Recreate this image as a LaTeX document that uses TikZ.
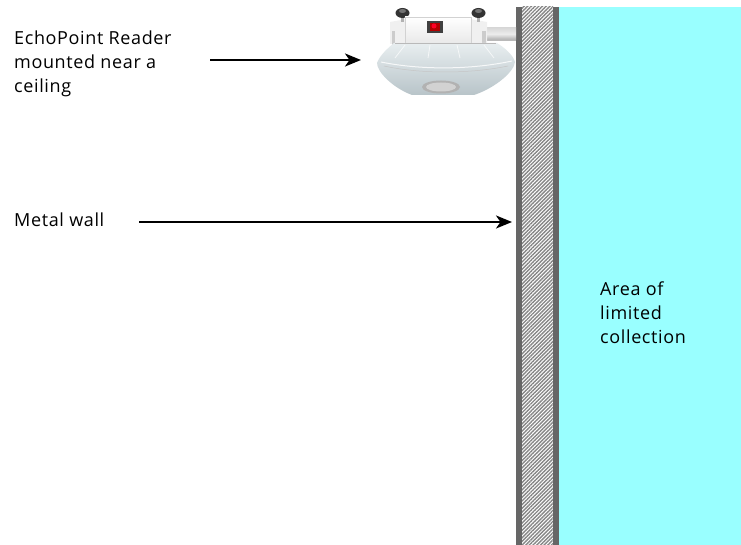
\documentclass[tikz,border=0pt]{standalone}
\usepackage{fontspec}
\setmainfont[LetterSpace=3.5]{Open Sans}
\usetikzlibrary{arrows.meta,patterns.meta,shapes.geometric}
\definecolor{zonecyan}{HTML}{99FFFF}
\definecolor{walldark}{HTML}{666666}
\definecolor{domelight}{HTML}{E8EEF0}
\definecolor{domedark}{HTML}{B8C4C9}
\tikzset{
  lbl/.style={anchor=west, align=left, inner sep=0pt, font=\fontsize{18}{24}\selectfont, text=black},
  pointer/.style={line width=2.3pt, -{Stealth[length=16pt,width=13pt,inset=4.5pt]}},
  wallband/.style={fill=walldark, draw=none},
}
\begin{document}
\begin{tikzpicture}[x=1pt,y=-1pt]
\useasboundingbox (0,0) rectangle (741,545);
\fill[white] (0,0) rectangle (741,545);

% area behind the wall
\fill[zonecyan] (559,7) rectangle (741,545);

% metal wall: two solid faces and a hatched core
\fill[white] (522,7) rectangle (553,545);
\fill[pattern={Lines[angle=45,distance=2.6pt,line width=1.4pt]}, pattern color=gray!95] (522,7) rectangle (553,545);
\fill[wallband] (516,7) rectangle (522,545);
\fill[wallband] (553,7) rectangle (559,545);

% reader: mounting bar to the wall
\shade[top color=gray!30, bottom color=gray!65, middle color=gray!15] (476,28) rectangle (516,40);
\fill[gray!55] (476,39) rectangle (516,41);

% side brackets
\fill[gray!12] (390,22) -- (407,19) -- (407,44) -- (390,44) -- cycle;
\fill[gray!12] (470,19) -- (487,22) -- (487,44) -- (470,44) -- cycle;
\fill[gray!40] (482,31) rectangle (486,45);
\fill[gray!40] (392,31) rectangle (395,45);

% knobs
\fill[gray!60] (401,15) rectangle (404,22);
\fill[gray!60] (477,15) rectangle (480,22);
\fill[black!80] (402.5,13) ellipse [x radius=7, y radius=5];
\fill[black!80] (478.5,13) ellipse [x radius=7, y radius=5];
\fill[black!55] (402.5,11) ellipse [x radius=3.5, y radius=2];
\fill[black!55] (478.5,11) ellipse [x radius=3.5, y radius=2];

% housing box with status display
\shade[top color=white, bottom color=gray!18] (405,17) rectangle (471,44);
\draw[gray!35, line width=0.6pt] (405,17) rectangle (471,44);
\fill[black!75] (427,21) rectangle (443,33);
\fill[red!70!black] (430,23.5) rectangle (440,31);
\fill[red!85!magenta] (434,26) circle [radius=2.5];

% dome
\shade[top color=domelight, bottom color=domedark]
  (394,43) -- (497,43) .. controls (505,48) and (513,55) .. (515,62)
  .. controls (514,72) and (495,88) .. (474,95) -- (412,95)
  .. controls (393,88) and (377,72) .. (377,63)
  .. controls (380,55) and (388,48) .. (394,43) -- cycle;
\draw[white, line width=1pt, opacity=0.8] (381,62) .. controls (420,70) and (470,70) .. (512,61);
\draw[gray!45, line width=0.5pt] (384,66) .. controls (420,74) and (470,74) .. (508,66);
\foreach \rx/\bx in {405/395, 430/428, 457/460, 484/494}
  \draw[white, line width=0.8pt, opacity=0.7] (\rx,45) -- (\bx,58);
\draw[gray!55, line width=0.8pt] (395,43) -- (496,43);
% underside badge
\fill[gray!60] (441,87) ellipse [x radius=19, y radius=6.5];
\fill[gray!35] (441,87) ellipse [x radius=15, y radius=4.5];

% anchor points for the pointers
\coordinate (readerTip) at (361,60);
\coordinate (readerTail) at (210,60);
\coordinate (wallTip) at (512,222);
\coordinate (wallTail) at (139,222);

% labels
\node[lbl] (readerLbl) at (14,64) {EchoPoint Reader\\mounted near a\\ceiling};
\node[lbl] (wallLbl) at (14,220) {Metal wall};
\node[lbl] (zoneLbl) at (600,313) {Area of\\limited\\collection};

% pointers
\draw[pointer] (readerTail) -- (readerTip);
\draw[pointer] (wallTail) -- (wallTip);
\end{tikzpicture}
\end{document}
